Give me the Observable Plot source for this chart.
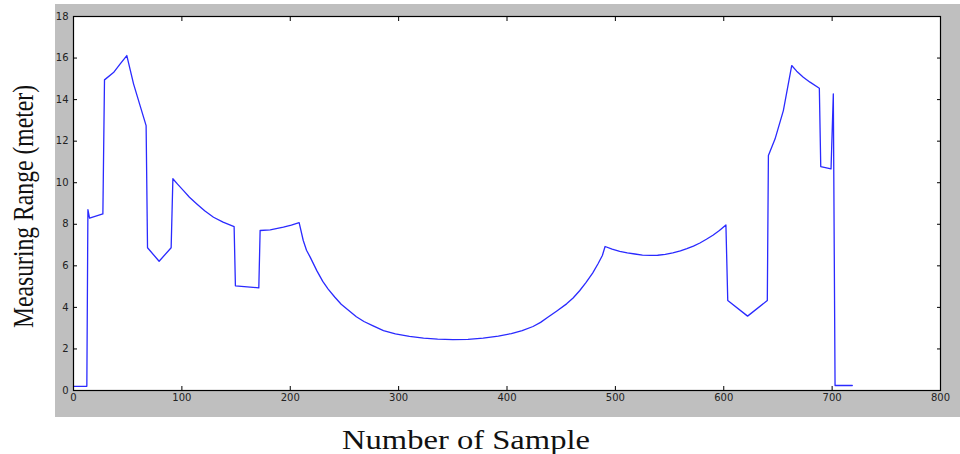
<!DOCTYPE html>
<html>
<head>
<meta charset="utf-8">
<script src="https://cdn.jsdelivr.net/npm/d3@7"></script>
<script src="https://cdn.jsdelivr.net/npm/@observablehq/plot@0.6"></script>
<style>
  html, body { margin: 0; padding: 0; background: #ffffff; }
  #chart svg { display: block; }
</style>
</head>
<body>
<div id="chart"></div>
<script>
const sampleIndex = [0, 12.3, 13.3, 14.8, 27.1, 28.6, 36.9, 43.1, 49.2, 55.4,
  61.5, 67, 68.3, 79, 90.1, 91.7, 96, 101.5, 107, 113.8,
  121, 129.2, 138, 148.2, 149.4, 171, 172.2, 181.5, 193.7, 201,
  208.2, 212, 215, 218.4, 224.5, 230, 235, 241, 247, 254,
  261, 268, 276, 286, 297, 310, 323, 336, 350, 364,
  378, 392, 404, 414, 424, 431, 437, 446, 455, 461,
  467, 473, 479, 484, 488, 490.5, 497, 504, 511, 518,
  525, 532, 539, 546, 553, 560, 566, 572, 578, 584,
  590, 596, 602, 603.7, 622, 640.2, 641.2, 647.3, 655, 662.7,
  667.3, 673.4, 679.6, 688.2, 689.5, 699, 701.1, 702.7, 718.6];
const measuringRange = [0.2, 0.2, 8.7, 8.3, 8.5, 14.95, 15.3, 15.72, 16.12, 14.76,
  13.7, 12.75, 6.87, 6.22, 6.87, 10.19, 9.93, 9.62, 9.3, 8.98,
  8.65, 8.34, 8.1, 7.89, 5.04, 4.94, 7.7, 7.73, 7.86, 7.96,
  8.08, 7.22, 6.75, 6.42, 5.77, 5.25, 4.88, 4.5, 4.15, 3.85,
  3.55, 3.32, 3.12, 2.88, 2.72, 2.6, 2.52, 2.47, 2.45, 2.46,
  2.52, 2.62, 2.74, 2.88, 3.08, 3.28, 3.5, 3.83, 4.17, 4.45,
  4.8, 5.2, 5.65, 6.1, 6.5, 6.93, 6.8, 6.7, 6.62, 6.57,
  6.52, 6.5, 6.51, 6.55, 6.62, 6.72, 6.83, 6.95, 7.1, 7.28,
  7.47, 7.7, 7.97, 4.33, 3.58, 4.33, 11.31, 12.1, 13.47, 15.64,
  15.37, 15.08, 14.84, 14.55, 10.78, 10.67, 14.28, 0.24, 0.24];
const xTicks = [0, 100, 200, 300, 400, 500, 600, 700, 800];
const yTicks = [0, 2, 4, 6, 8, 10, 12, 14, 16, 18];
const xLabel = "Number of Sample";
const yLabel = "Measuring Range (meter)";

const data = sampleIndex.map((x, i) => ({x, y: measuringRange[i]}));

const chart = Plot.plot({
  width: 960,
  height: 454,
  marginTop: 16,
  marginRight: 20,
  marginBottom: 64,
  marginLeft: 73,
  style: {background: "transparent", fontFamily: "DejaVu Sans", fontSize: "10px", color: "#222"},
  x: {domain: [0, 800], ticks: xTicks},
  y: {domain: [0, 18], ticks: yTicks},
  marks: [
    Plot.frame({fill: "white", stroke: null}),
    Plot.axisX(xTicks, {anchor: "bottom", tickSize: -4, tickPadding: 7, label: null, stroke: "#000", fill: "#222", fontSize: 10}),
    Plot.axisX(xTicks, {anchor: "top", tickSize: -4, tickFormat: () => "", label: null, stroke: "#000"}),
    Plot.axisY(yTicks, {anchor: "left", tickSize: -4, tickPadding: 9, label: null, stroke: "#000", fill: "#222", fontSize: 10}),
    Plot.axisY(yTicks, {anchor: "right", tickSize: -4, tickFormat: () => "", label: null, stroke: "#000"}),
    Plot.line(data, {x: "x", y: "y", stroke: "#2a2aff", strokeWidth: 1.3}),
    Plot.frame({stroke: "#000", strokeWidth: 1.2})
  ]
});

const svg = d3.select(chart);
svg.insert("rect", ":first-child")
  .attr("x", 55).attr("y", 4).attr("width", 905).attr("height", 413)
  .attr("fill", "#bfbfbf");
svg.insert("rect", ":first-child")
  .attr("x", 0).attr("y", 0).attr("width", 960).attr("height", 454)
  .attr("fill", "#ffffff");

svg.append("text")
  .attr("x", 466).attr("y", 449)
  .attr("text-anchor", "middle")
  .attr("font-family", "Liberation Serif, Times New Roman, serif")
  .attr("font-size", 27)
  .attr("fill", "#111")
  .attr("textLength", 248)
  .attr("lengthAdjust", "spacingAndGlyphs")
  .text(xLabel);

svg.append("text")
  .attr("transform", "translate(33,206.5) rotate(-90)")
  .attr("text-anchor", "middle")
  .attr("font-family", "Liberation Serif, Times New Roman, serif")
  .attr("font-size", 30)
  .attr("fill", "#111")
  .attr("textLength", 243)
  .attr("lengthAdjust", "spacingAndGlyphs")
  .text(yLabel);

document.getElementById("chart").appendChild(chart);
</script>
</body>
</html>
